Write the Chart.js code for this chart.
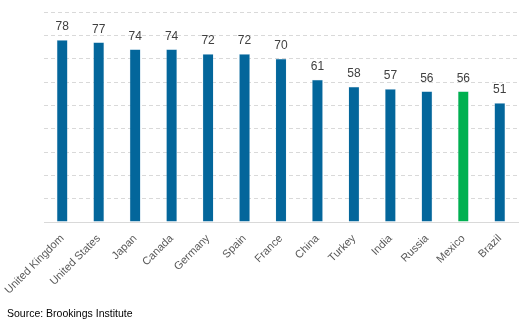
<!DOCTYPE html>
<html>
<head>
<meta charset="utf-8">
<script src="https://cdn.jsdelivr.net/npm/chart.js@4"></script>
<style>
  html, body { margin: 0; padding: 0; background: #fff; }
  #wrap { position: relative; width: 525px; height: 323px; }
  #source {
    position: absolute; left: 7px; top: 307px;
    font: 10.5px "Liberation Sans", Arial, sans-serif; color: #000;
  }
</style>
</head>
<body>
<div id="wrap">
  <canvas id="myChart" width="525" height="323"></canvas>
  <div id="source">Source: Brookings Institute</div>
</div>
<script>
const paises = ['United Kingdom', 'United States', 'Japan', 'Canada', 'Germany', 'Spain', 'France', 'China', 'Turkey', 'India', 'Russia', 'Mexico', 'Brazil'];
const valores = [78, 77, 74, 74, 72, 72, 70, 61, 58, 57, 56, 56, 51];
const cores = paises.map(p => p === 'Mexico' ? '#00b050' : '#03669b');

// numeros em cima das barras
const rotulos = {
    id: 'rotulos',
    afterDatasetsDraw(chart) {
        const c = chart.ctx;
        const meta = chart.getDatasetMeta(0);
        c.save();
        c.font = '12px "Liberation Sans", Arial, sans-serif';
        c.fillStyle = '#404040';
        c.textAlign = 'center';
        c.textBaseline = 'bottom';
        meta.data.forEach((bar, i) => {
            c.fillText(valores[i], bar.x, bar.y - 7);
        });
        c.restore();
    }
};

const ctx = document.getElementById('myChart').getContext('2d');
const myChart = new Chart(ctx, {
    type: 'bar',
    data: {
        labels: paises,
        datasets: [{
            data: valores,
            backgroundColor: cores,
            borderColor: 'rgba(180,210,230,0.6)',
            borderWidth: 0.5,
            barPercentage: 0.3,
            categoryPercentage: 1
        }]
    },
    options: {
        responsive: false,
        animation: false,
        layout: { padding: { left: 44, right: 7, top: 12, bottom: 0 } },
        plugins: {
            legend: { display: false },
            tooltip: { enabled: false }
        },
        scales: {
            x: {
                grid: { display: false },
                border: { display: true, color: '#d9d9d9', width: 1 },
                ticks: {
                    color: '#595959',
                    font: { family: '"Liberation Sans", Arial, sans-serif', size: 11 },
                    minRotation: 45,
                    maxRotation: 45,
                    padding: 2
                },
                afterFit(s) { s.height = 101; }
            },
            y: {
                min: 0,
                max: 90,
                ticks: { display: false, stepSize: 10 },
                border: { display: false, dash: [4, 3] },
                grid: { color: '#d9d9d9', lineWidth: 1, drawTicks: false },
                afterFit(s) { s.width = 0; }
            }
        }
    },
    plugins: [rotulos]
});
</script>
</body>
</html>
